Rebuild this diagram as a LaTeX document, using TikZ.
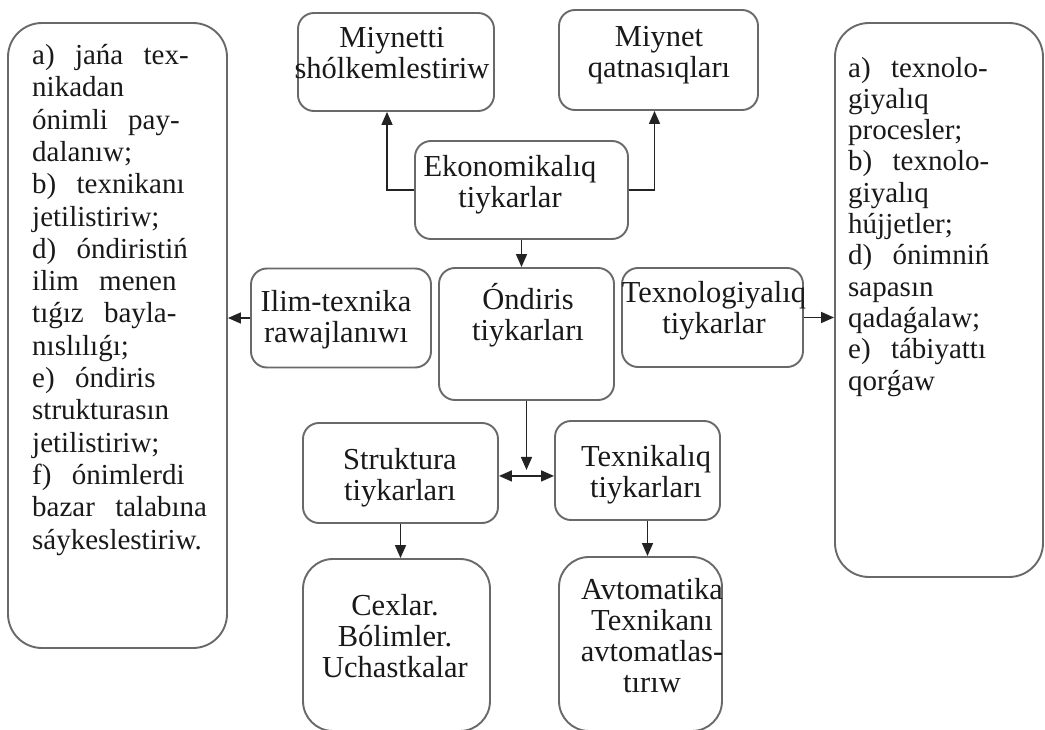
\documentclass[tikz,border=0pt]{standalone}
\usepackage{fontspec}
\setmainfont{Liberation Serif}
\usetikzlibrary{arrows.meta, calc, positioning}
\definecolor{boxgray}{RGB}{105,105,105}
\definecolor{linegray}{RGB}{35,35,35}
\newcommand{\widesp}{\spaceskip=0.7em\relax}
\tikzset{
  bx/.style={draw=boxgray, line width=1.9pt, rounded corners=16pt, inner sep=0pt},
  lbl/.style={font=\fontsize{30.5}{31}\selectfont, align=center, anchor=base, inner sep=0pt, text=black!90},
  lst/.style={font=\fontsize{29}{32.3}\selectfont\widesp, align=left, anchor=base west, inner sep=0pt, text=black!90},
  con/.style={draw=linegray, line width=1.6pt, ->}
}

\begin{document}
\begin{tikzpicture}[x=1pt,y=-1pt,>={Triangle[length=13pt,width=11pt]}]
\useasboundingbox (0,0) rectangle (1045,730);

\node[bx, minimum width=219pt, minimum height=625pt, rounded corners=34pt] (lbox) at (117.5,335.5) {};
\node[bx, minimum width=196pt, minimum height=98pt] (miyshol) at (396,62) {};
\node[bx, minimum width=199pt, minimum height=100pt] (miyqat) at (658.5,60) {};
\node[bx, minimum width=213pt, minimum height=98pt] (ekon) at (521.5,190) {};
\node[bx, minimum width=180pt, minimum height=99pt] (ilim) at (341,318) {};
\node[bx, minimum width=175pt, minimum height=132pt] (ondiris) at (526.5,334) {};
\node[bx, minimum width=181pt, minimum height=99pt] (texnol) at (712.5,317.5) {};
\node[bx, minimum width=208pt, minimum height=554pt, rounded corners=34pt] (rbox) at (939,300) {};
\node[bx, minimum width=195pt, minimum height=100pt] (struk) at (400.5,473) {};
\node[bx, minimum width=165pt, minimum height=99pt] (texnik) at (637.5,470.5) {};
\node[bx, minimum width=187pt, minimum height=172pt, rounded corners=30pt] (cexlar) at (396.5,645) {};
\node[bx, minimum width=163pt, minimum height=174pt, rounded corners=30pt] (avto) at (640.5,644) {};

\node[lst] (t-lbox) at (32,549) {a) jańa tex-\\nikadan\\ónimli pay-\\dalanıw;\\b) texnikanı\\jetilistiriw;\\d) óndiristiń\\ilim menen\\tıǵız bayla-\\nıslılıǵı;\\e) óndiris\\strukturasın\\jetilistiriw;\\f) ónimlerdi\\bazar talabına\\sáykeslestiriw.};
\node[lst, font=\fontsize{29}{31.3}\selectfont\widesp] (t-rbox) at (848,390) {a) texnolo-\\giyalıq\\procesler;\\b) texnolo-\\giyalıq\\hújjetler;\\d) ónimniń\\sapasın\\qadaǵalaw;\\e) tábiyattı\\qorǵaw};

\node[lbl] (t-miyshol) at (392,79) {Miynetti\\shólkemlestiriw};
\node[lbl] (t-miyqat) at (659,78) {Miynet\\qatnasıqları};
\node[lbl] (t-ekon) at (510,207.5) {Ekonomikalıq\\tiykarlar};
\node[lbl] (t-ilim) at (336,342) {Ilim-texnika\\rawajlanıwı};
\node[lbl] (t-ondiris) at (528,341) {Óndiris\\tiykarları};
\node[lbl] (t-texnol) at (714,334) {Texnologiyalıq\\tiykarlar};
\node[lbl] (t-struk) at (400,500) {Struktura\\tiykarları};
\node[lbl] (t-texnik) at (646,497) {Texnikalıq\\tiykarları};
\node[lbl] (t-cexlar) at (395,677) {Cexlar.\\Bólimler.\\Uchastkalar};
\node[lbl] (t-avto) at (652,692) {Avtomatika\\Texnikanı\\avtomatlas-\\tırıw};

\coordinate (mid) at ($(ondiris.south)+(0,75)$);
\draw[con] (ekon.west) -| ([xshift=-9pt]miyshol.south);
\draw[con] (ekon.east) -| ([xshift=-4pt]miyqat.south);
\draw[con] (ekon.south) -- (ekon.south |- ondiris.north);
\draw[con] (ilim.west) -- (lbox.east |- ilim.west);
\draw[con] (texnol.east) -- (rbox.west |- texnol.east);
\draw[con] (ondiris.south) -- ([yshift=6pt]mid);
\draw[con, <->] (struk.east |- mid) -- (texnik.west |- mid);
\draw[con] (struk.south) -- (struk.south |- cexlar.north);
\draw[con] ([xshift=10pt]texnik.south) -- ([xshift=10pt]texnik.south |- avto.north);
\end{tikzpicture}
\end{document}
